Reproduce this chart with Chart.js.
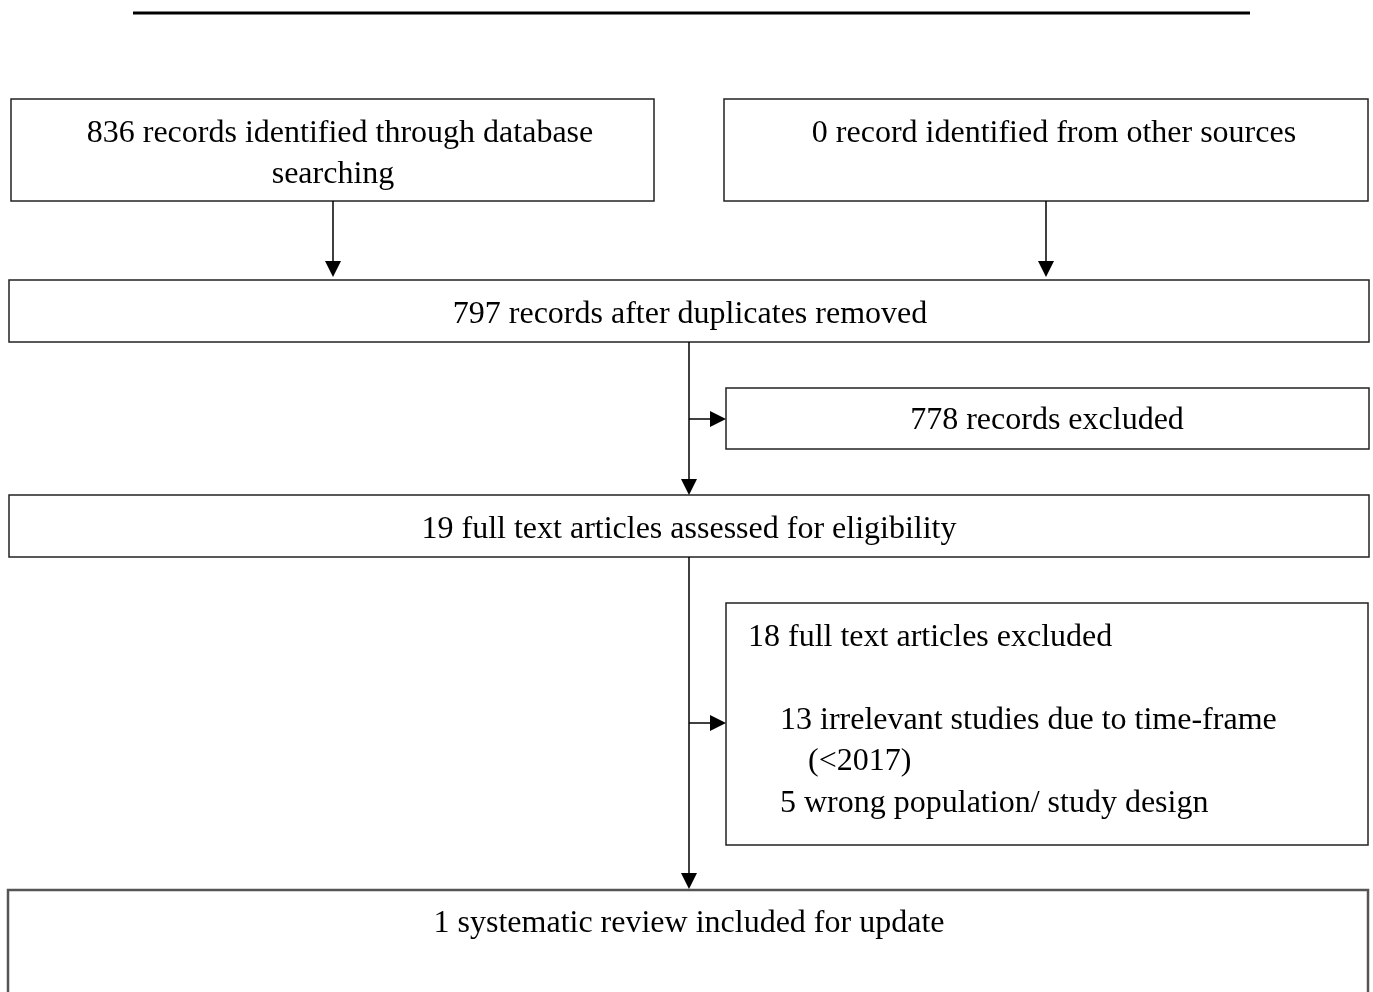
<!DOCTYPE html>
<html lang="en">
    <head>
        <title> PRISMA flow </title>
        <script src="https://cdn.jsdelivr.net/npm/chart.js@4.4.0/dist/chart.umd.min.js"></script>
        <style>
            html, body { margin: 0; padding: 0; background: #fff; }
            #wrap { width: 1373px; height: 992px; }
        </style>
    </head>
    <body>
        <div id="wrap"><canvas id="flow"></canvas></div>
        <script>

            // record counts at each stage
            const counts = [836, 0, 797, 778, 19, 18, 1];

            // box outlines, in page units (x right, y down)
            const boxLeft   = [11, 724, 9, 726, 9, 726, 8];
            const boxTop    = [99, 99, 280, 388, 495, 603, 890];
            const boxRight  = [654, 1368, 1369, 1369, 1369, 1368, 1368];
            const boxBottom = [201, 201, 342, 449, 557, 845, 1010];

            // text lines: text, x, y, alignment
            const textLines = [
                counts[0] + ' records identified through database',
                'searching',
                counts[1] + ' record identified from other sources',
                counts[2] + ' records after duplicates removed',
                counts[3] + ' records excluded',
                counts[4] + ' full text articles assessed for eligibility',
                counts[5] + ' full text articles excluded',
                '13 irrelevant studies due to time-frame',
                '(<2017)',
                '5 wrong population/ study design',
                counts[6] + ' systematic review included for update'
            ];
            const textX     = [340, 333, 1054, 690, 1047, 689, 748, 780, 808, 780, 689];
            const textY     = [134, 175, 134, 315, 421, 530, 638, 721, 762, 804, 924];
            const textAlign = ['center', 'center', 'center', 'center', 'center', 'center', 'left', 'left', 'left', 'left', 'center'];

            // connectors: start and end points, arrow head at the end
            const arrowX0 = [333, 1046, 689, 689, 689, 689];
            const arrowY0 = [201, 201, 342, 419, 557, 723];
            const arrowX1 = [333, 1046, 689, 726, 689, 726];
            const arrowY1 = [277, 277, 495, 419, 889, 723];

            const flowPlugin = {
                id: 'flow',
                afterDraw (chart) {
                    const ctx = chart.ctx;
                    const xs = chart.scales.x;
                    const ys = chart.scales.y;
                    const px = v => xs.getPixelForValue(v);
                    const py = v => ys.getPixelForValue(v);

                    ctx.save();

                    // rule across the top of the page
                    ctx.strokeStyle = '#000';
                    ctx.lineWidth = 3;
                    ctx.beginPath();
                    ctx.moveTo(px(133), py(13));
                    ctx.lineTo(px(1250), py(13));
                    ctx.stroke();

                    // boxes
                    for (let i = 0; i < boxLeft.length; i++) {
                        const last = i === boxLeft.length - 1;
                        ctx.strokeStyle = last ? '#555' : '#222';
                        ctx.lineWidth = last ? 2.5 : 1.5;
                        ctx.strokeRect(px(boxLeft[i]), py(boxTop[i]),
                            px(boxRight[i]) - px(boxLeft[i]), py(boxBottom[i]) - py(boxTop[i]));
                    }

                    // connectors
                    ctx.strokeStyle = '#000';
                    ctx.fillStyle = '#000';
                    ctx.lineWidth = 1.5;
                    for (let i = 0; i < arrowX0.length; i++) {
                        const x0 = px(arrowX0[i]), y0 = py(arrowY0[i]);
                        const x1 = px(arrowX1[i]), y1 = py(arrowY1[i]);
                        const ang = Math.atan2(y1 - y0, x1 - x0);
                        const len = 16, half = 8;
                        const bx = x1 - len * Math.cos(ang), by = y1 - len * Math.sin(ang);
                        ctx.beginPath();
                        ctx.moveTo(x0, y0);
                        ctx.lineTo(bx, by);
                        ctx.stroke();
                        ctx.beginPath();
                        ctx.moveTo(x1, y1);
                        ctx.lineTo(bx - half * Math.sin(ang), by + half * Math.cos(ang));
                        ctx.lineTo(bx + half * Math.sin(ang), by - half * Math.cos(ang));
                        ctx.closePath();
                        ctx.fill();
                    }

                    // text
                    ctx.font = '32px "Liberation Serif", "Times New Roman", serif';
                    ctx.fillStyle = '#000';
                    ctx.textBaseline = 'middle';
                    for (let i = 0; i < textLines.length; i++) {
                        ctx.textAlign = textAlign[i];
                        ctx.fillText(textLines[i], px(textX[i]), py(textY[i]));
                    }

                    ctx.restore();
                }
            };

            new Chart(document.getElementById('flow'), {
                type: 'scatter',
                data: { datasets: [{ data: [], pointRadius: 0 }] },
                options: {
                    responsive: true,
                    maintainAspectRatio: false,
                    animation: false,
                    events: [],
                    layout: { padding: 0 },
                    plugins: { legend: { display: false }, tooltip: { enabled: false } },
                    scales: {
                        x: { type: 'linear', min: 0, max: 1373, display: false },
                        y: { type: 'linear', min: 0, max: 992, reverse: true, display: false }
                    }
                },
                plugins: [flowPlugin]
            });

        </script>
    </body>
</html>
